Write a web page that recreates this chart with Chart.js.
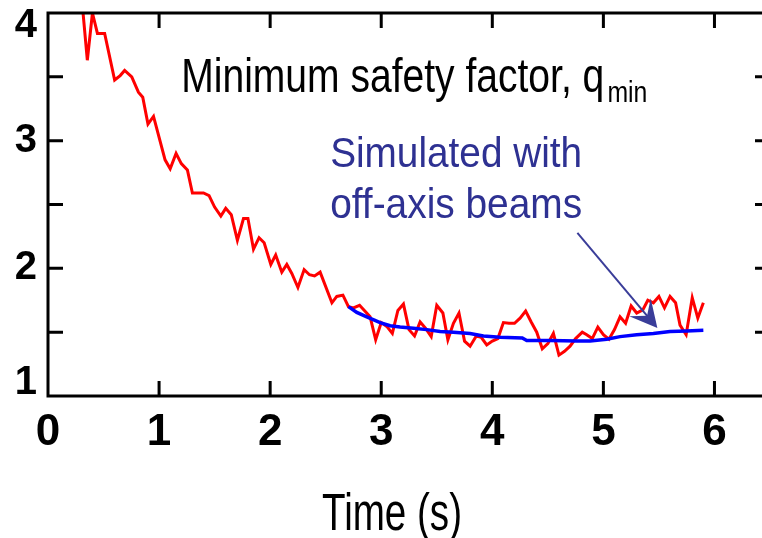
<!DOCTYPE html>
<html>
<head>
<meta charset="utf-8">
<script src="https://cdn.jsdelivr.net/npm/chart.js@4"></script>
<style>
html, body { margin: 0; padding: 0; background: #fff; overflow: hidden; }
#wrap { width: 776px; height: 538px; }
</style>
</head>
<body>
<div id="wrap"><canvas id="graficoQmin" width="776" height="538"></canvas></div>
<script>
// medido (vermelho): tempo (s) e q_min
const tMedido = [0.30, 0.354, 0.40, 0.445, 0.51, 0.60, 0.65, 0.69, 0.754, 0.814, 0.853, 0.90, 0.95,
  1.054, 1.10, 1.153, 1.20, 1.255, 1.30, 1.40, 1.45, 1.50, 1.556, 1.60, 1.65, 1.705, 1.76, 1.80, 1.85,
  1.90, 1.946, 2.006, 2.05, 2.105, 2.15, 2.195, 2.25, 2.306, 2.354, 2.40, 2.45, 2.556, 2.60, 2.655,
  2.705, 2.75, 2.805, 2.90, 2.95, 3.00, 3.05, 3.10, 3.15, 3.20, 3.25, 3.30, 3.35, 3.40, 3.45, 3.50,
  3.555, 3.60, 3.65, 3.70, 3.75, 3.80, 3.856, 3.90, 3.95, 4.00, 4.05, 4.10, 4.15, 4.20, 4.25, 4.30,
  4.35, 4.40, 4.45, 4.50, 4.55, 4.60, 4.65, 4.70, 4.75, 4.81, 4.85, 4.90, 4.95, 5.00, 5.05, 5.10,
  5.15, 5.20, 5.25, 5.30, 5.355, 5.40, 5.45, 5.50, 5.55, 5.60, 5.65, 5.69, 5.745, 5.80, 5.85, 5.90];
const qMedido = [4.15, 3.63, 4.00, 3.84, 3.84, 3.475, 3.51, 3.55, 3.50, 3.38, 3.34, 3.13, 3.19,
  2.85, 2.78, 2.90, 2.82, 2.77, 2.59, 2.59, 2.57, 2.48, 2.41, 2.47, 2.42, 2.22, 2.39, 2.39, 2.15,
  2.24, 2.20, 2.03, 2.105, 1.97, 2.03, 1.96, 1.85, 1.99, 1.95, 1.94, 1.97, 1.73, 1.78, 1.79,
  1.70, 1.69, 1.71, 1.62, 1.44, 1.575, 1.545, 1.49, 1.67, 1.72, 1.52, 1.47, 1.58, 1.53, 1.465, 1.71,
  1.65, 1.44, 1.57, 1.65, 1.43, 1.39, 1.47, 1.46, 1.40, 1.43, 1.45, 1.575, 1.57, 1.57, 1.61, 1.665,
  1.58, 1.50, 1.37, 1.41, 1.49, 1.32, 1.35, 1.39, 1.45, 1.50, 1.48, 1.45, 1.54, 1.48, 1.445, 1.52,
  1.62, 1.57, 1.705, 1.65, 1.675, 1.75, 1.73, 1.78, 1.69, 1.78, 1.73, 1.555, 1.48, 1.77, 1.61, 1.73];

// simulado (azul)
const tSimulado = [2.705, 2.78, 2.87, 2.99, 3.08, 3.17, 3.29, 3.41, 3.53, 3.65, 3.80, 3.92, 4.07,
  4.27, 4.31, 4.52, 4.76, 4.88, 5.03, 5.15, 5.30, 5.45, 5.60, 5.75, 5.90];
const qSimulado = [1.70, 1.655, 1.62, 1.575, 1.55, 1.54, 1.53, 1.52, 1.505, 1.50, 1.49, 1.47, 1.46,
  1.455, 1.435, 1.435, 1.43, 1.43, 1.445, 1.465, 1.48, 1.49, 1.505, 1.51, 1.515];

const xTicks = [0, 1, 2, 3, 4, 5, 6];
const yTicks = [1, 2, 3, 4];

const pares = (xs, ys) => xs.map((x, i) => ({ x: x, y: ys[i] }));

// texto comprimido na largura certa
function textoLargura(ctx, txt, x, y, font, largura, cor) {
    ctx.save();
    ctx.font = font;
    ctx.fillStyle = cor;
    ctx.textBaseline = 'alphabetic';
    const w = ctx.measureText(txt).width;
    ctx.translate(x, y);
    ctx.scale(largura / w, 1);
    ctx.fillText(txt, 0, 0);
    ctx.restore();
}

// moldura com marcas para dentro
const moldura = {
    id: 'moldura',
    afterDatasetsDraw(chart) {
        const { ctx, chartArea: a, scales: { x, y } } = chart;
        ctx.save();
        ctx.strokeStyle = '#000';
        ctx.lineWidth = 3;
        ctx.lineCap = 'butt';
        ctx.beginPath();
        x.ticks.forEach(t => {
            if (t.value <= x.min || t.value >= x.max) return;
            const px = x.getPixelForValue(t.value);
            ctx.moveTo(px, a.bottom); ctx.lineTo(px, a.bottom - 15);
            ctx.moveTo(px, a.top); ctx.lineTo(px, a.top + 15);
        });
        y.ticks.forEach(t => {
            if (t.value <= y.min || t.value >= y.max) return;
            const py = y.getPixelForValue(t.value);
            ctx.moveTo(a.left, py); ctx.lineTo(a.left + 15, py);
            ctx.moveTo(a.right, py); ctx.lineTo(a.right - 15, py);
        });
        ctx.stroke();
        ctx.strokeRect(a.left, a.top, a.right - a.left, a.bottom - a.top);
        ctx.restore();
    }
};

// titulo, rotulo azul, seta e eixo x
const textos = {
    id: 'textos',
    afterDraw(chart) {
        const { ctx, scales: { x, y } } = chart;
        const fonte = 'Liberation Sans, Arial, sans-serif';
        const azul = '#2e3192';

        textoLargura(ctx, 'Minimum safety factor, q', x.getPixelForValue(1.2), y.getPixelForValue(3.38),
            '48px ' + fonte, 423, '#000');
        textoLargura(ctx, 'min', x.getPixelForValue(5.036), y.getPixelForValue(3.30),
            '30px ' + fonte, 40, '#000');

        textoLargura(ctx, 'Simulated with', x.getPixelForValue(2.54), y.getPixelForValue(2.795),
            '42px ' + fonte, 252, azul);
        textoLargura(ctx, 'off-axis beams', x.getPixelForValue(2.54), y.getPixelForValue(2.395),
            '42px ' + fonte, 252, azul);

        // seta
        const x0 = x.getPixelForValue(4.766), y0 = y.getPixelForValue(2.277);
        const x1 = x.getPixelForValue(5.486), y1 = y.getPixelForValue(1.533);
        const ang = Math.atan2(y1 - y0, x1 - x0);
        ctx.save();
        ctx.strokeStyle = '#3a3d99';
        ctx.fillStyle = '#3a3d99';
        ctx.lineWidth = 2;
        ctx.beginPath();
        ctx.moveTo(x0, y0);
        ctx.lineTo(x1 - 10 * Math.cos(ang), y1 - 10 * Math.sin(ang));
        ctx.stroke();
        ctx.translate(x1, y1);
        ctx.rotate(ang);
        ctx.beginPath();
        ctx.moveTo(0, 0);
        ctx.lineTo(-27, -14);
        ctx.lineTo(-16, 0);
        ctx.lineTo(-27, 14);
        ctx.closePath();
        ctx.fill();
        ctx.restore();

        textoLargura(ctx, 'Time (s)', 322, 530, '51px ' + fonte, 140, '#000');
    }
};

new Chart(document.getElementById('graficoQmin'), {
    type: 'line',
    data: {
        datasets: [{
            label: 'Simulated with off-axis beams',
            data: pares(tSimulado, qSimulado),
            borderColor: '#0000ff',
            borderWidth: 3.5,
            pointRadius: 0,
            tension: 0,
            order: 0
        }, {
            label: 'Minimum safety factor, q_min',
            data: pares(tMedido, qMedido),
            borderColor: '#ff0000',
            borderWidth: 3,
            pointRadius: 0,
            tension: 0,
            order: 1
        }]
    },
    options: {
        responsive: false,
        animation: false,
        devicePixelRatio: 1,
        layout: { autoPadding: false, padding: { top: 13, right: 6, left: 0, bottom: 0 } },
        plugins: { legend: { display: false }, tooltip: { enabled: false } },
        scales: {
            x: {
                type: 'linear',
                min: 0,
                max: 6.5,
                grid: { display: false, drawTicks: false },
                border: { display: false },
                ticks: {
                    stepSize: 1,
                    includeBounds: false,
                    autoSkip: false,
                    maxRotation: 0,
                    padding: 10,
                    color: '#000',
                    font: { family: 'Liberation Sans, Arial, sans-serif', size: 44, weight: 'bold' },
                    callback: v => xTicks.includes(v) ? String(v) : ''
                },
                afterFit(s) { s.height = 142; s.paddingLeft = 0; s.paddingRight = 0; }
            },
            y: {
                type: 'linear',
                min: 1,
                max: 4,
                grid: { display: false, drawTicks: false },
                border: { display: false },
                ticks: {
                    stepSize: 0.5,
                    autoSkip: false,
                    padding: 11,
                    color: '#000',
                    font: { family: 'Liberation Sans, Arial, sans-serif', size: 40, weight: 'bold', lineHeight: 0.65 },
                    callback: v => {
                        if (!yTicks.includes(v)) return '';
                        if (v === yTicks[yTicks.length - 1]) return ['', String(v)];
                        if (v === yTicks[0]) return [String(v), ''];
                        return String(v);
                    }
                },
                afterFit(s) { s.width = 48; s.paddingTop = 0; s.paddingBottom = 0; }
            }
        }
    },
    plugins: [moldura, textos]
});
</script>
</body>
</html>
